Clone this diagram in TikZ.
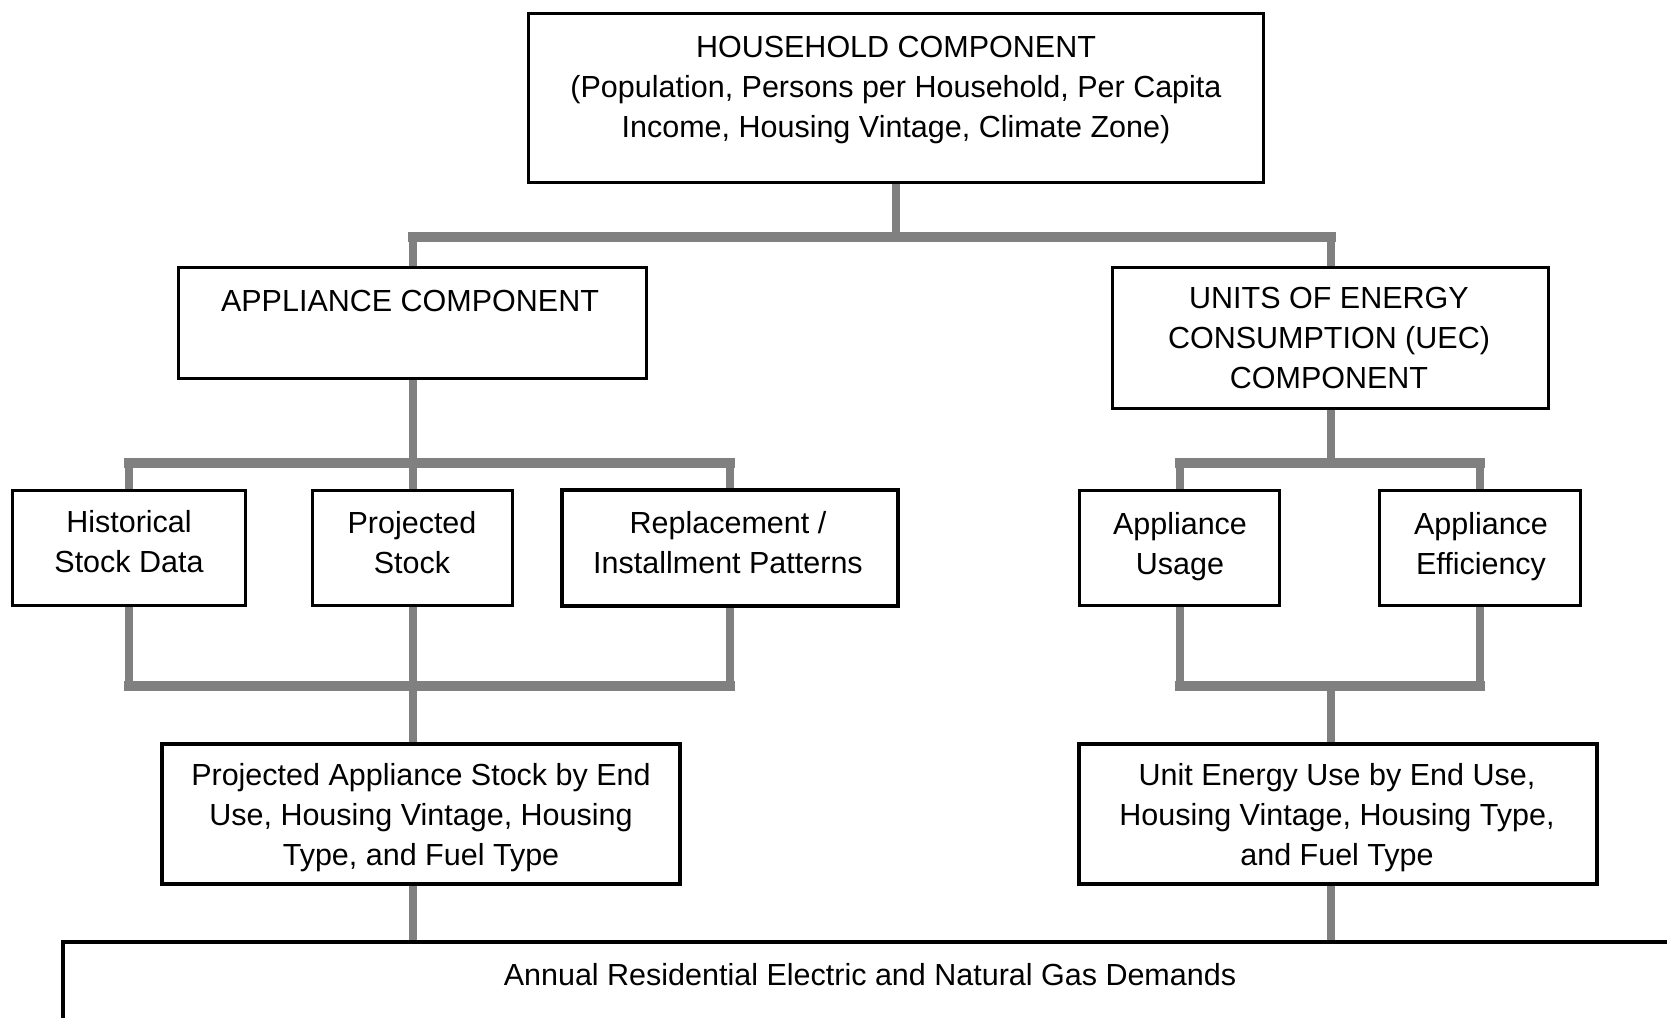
\documentclass[tikz,border=0pt]{standalone}
\usepackage{fontspec}
\setmainfont{Liberation Sans}
\definecolor{conngray}{HTML}{808080}
\begin{document}
\begin{tikzpicture}[x=0.5pt,y=-0.5pt,
  box/.style={draw=black, line width=1pt, fill=white, inner sep=0pt},
  thickbox/.style={box, line width=1.3pt},
  txt/.style={align=center, inner sep=0pt, font=\fontsize{15.25}{20}\selectfont},
  conn/.style={draw=conngray, line width=4pt},
  bar/.style={draw=conngray, line width=5pt, line cap=rect}]
\useasboundingbox (0,0) rectangle (1667,1018);
\clip (0,0) rectangle (1667,1018);
\fill[white] (0,0) rectangle (1667,1018);

% boxes (placed first to get anchors; outlines redrawn on top later)
\node[box, minimum width=367pt, minimum height=84pt] (top) at (896,98) {};
\node[box, minimum width=233.5pt, minimum height=55pt] (app) at (412.5,323) {};
\node[box, minimum width=217.5pt, minimum height=70pt] (uec) at (1330.5,338) {};
\node[box, minimum width=116pt, minimum height=57pt] (hist) at (129,548) {};
\node[box, minimum width=99.5pt, minimum height=57pt] (proj) at (412.5,548) {};
\node[thickbox, minimum width=167pt, minimum height=57pt] (repl) at (730,548) {};
\node[box, minimum width=99.5pt, minimum height=57pt] (usage) at (1179.5,548) {};
\node[box, minimum width=100pt, minimum height=57pt] (eff) at (1480,548) {};
\node[thickbox, minimum width=258pt, minimum height=69pt] (pas) at (421,814) {};
\node[thickbox, minimum width=258pt, minimum height=69pt] (ueu) at (1338,814) {};
\node[thickbox, anchor=north west, minimum width=830pt, minimum height=60pt] (annual) at (62,941) {};

% junction coordinates
\coordinate (j1) at (896,237);
\coordinate (j2) at (412,463);
\coordinate (j3) at (412,686);
\coordinate (j4) at (1331,463);
\coordinate (j5) at (1331,686);

% connectors
\draw[conn] (top.south) -- (top.south |- j1);
\draw[bar] (app.north |- j1) -- (uec.north |- j1);
\draw[conn] (app.north |- j1) -- (app.north);
\draw[conn] (uec.north |- j1) -- (uec.north);

\draw[conn] (app.south) -- (proj.north);
\draw[bar] (hist.north |- j2) -- (repl.north |- j2);
\draw[conn] (hist.north |- j2) -- (hist.north);
\draw[conn] (repl.north |- j2) -- (repl.north);

\draw[conn] (hist.south) -- (hist.south |- j3);
\draw[conn] (proj.south) -- (proj.south |- j3);
\draw[conn] (repl.south) -- (repl.south |- j3);
\draw[bar] (hist.south |- j3) -- (repl.south |- j3);
\draw[conn] (proj.south |- j3) -- (proj.south |- pas.north);
\draw[conn] (proj.south |- pas.south) -- (proj.south |- annual.north);

\draw[conn] (uec.south) -- (uec.south |- j4);
\draw[bar] (usage.north |- j4) -- (eff.north |- j4);
\draw[conn] (usage.north |- j4) -- (usage.north);
\draw[conn] (eff.north |- j4) -- (eff.north);

\draw[conn] (usage.south) -- (usage.south |- j5);
\draw[conn] (eff.south) -- (eff.south |- j5);
\draw[bar] (usage.south |- j5) -- (eff.south |- j5);
\draw[conn] (uec.south |- j5) -- (uec.south |- ueu.north);
\draw[conn] (uec.south |- ueu.south) -- (uec.south |- annual.north);

% redraw box outlines on top
\foreach \n in {top,app,uec,hist,proj,usage,eff}{
  \draw[black, line width=1pt] (\n.north west) rectangle (\n.south east);
}
\foreach \n in {repl,pas,ueu,annual}{
  \draw[black, line width=1.3pt] (\n.north west) rectangle (\n.south east);
}

% texts
\node[txt] (toptxt) at (896,90) {HOUSEHOLD COMPONENT\\(Population, Persons per Household, Per Capita\\Income, Housing Vintage, Climate Zone)};
\node[txt] (apptxt) at (410,301) {APPLIANCE COMPONENT};
\node[txt] (uectxt) at (1329,338) {UNITS OF ENERGY\\CONSUMPTION (UEC)\\COMPONENT};
\node[txt] (histtxt) at (129,542) {Historical\\Stock Data};
\node[txt] (projtxt) at (412,543) {Projected\\Stock};
\node[txt] (repltxt) at (728,543) {Replacement /\\Installment Patterns};
\node[txt] (usagetxt) at (1180,547) {Appliance\\Usage};
\node[txt] (efftxt) at (1481,547) {Appliance\\Efficiency};
\node[txt] (pastxt) at (421,818) {Projected Appliance Stock by End\\Use, Housing Vintage, Housing\\Type, and Fuel Type};
\node[txt] (ueutxt) at (1337,818) {Unit Energy Use by End Use,\\Housing Vintage, Housing Type,\\and Fuel Type};
\node[txt] (annualtxt) at (870,975) {Annual Residential Electric and Natural Gas Demands};
\end{tikzpicture}
\end{document}
